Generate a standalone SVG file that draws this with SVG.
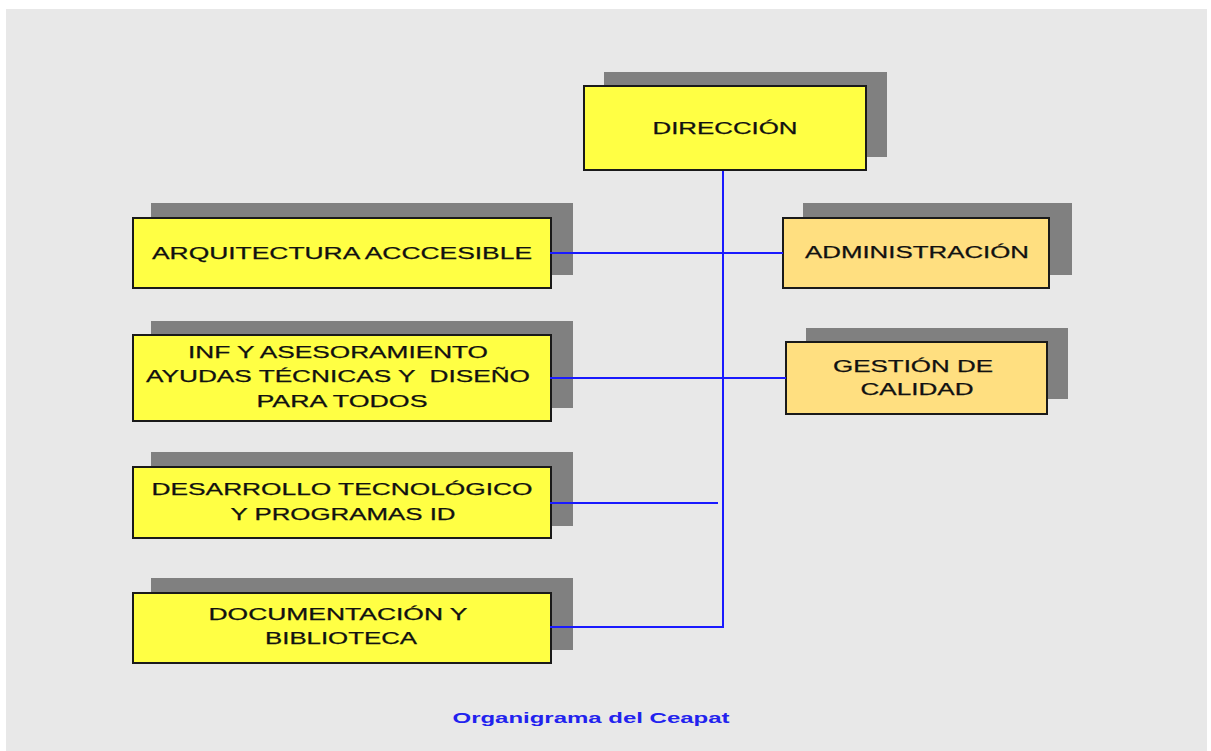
<svg xmlns="http://www.w3.org/2000/svg" width="1211" height="751" viewBox="0 0 1211 751">
<style>
.shadow{fill:#808080}
.box{stroke:#1a1a1a;stroke-width:2}
.y{fill:#ffff44}
.o{fill:#ffdf80}
.t{font-family:"Liberation Sans",Arial,sans-serif;font-size:16px;fill:#111;text-anchor:middle;stroke:#111;stroke-width:0.25;white-space:pre}
.cap{font-family:"Liberation Sans",Arial,sans-serif;font-size:15px;font-weight:bold;fill:#2222ee;text-anchor:middle}
.c{stroke:#1a1aff;stroke-width:2;fill:none}
</style>
<rect x="0" y="0" width="1211" height="751" fill="#ffffff"/>
<rect x="6" y="9" width="1201" height="742" fill="#e8e8e8"/>
<g id="direccion">
<rect class="shadow" x="604" y="72" width="283" height="85"/>
<rect class="box y" x="584" y="86" width="282" height="84"/>
<text class="t" x="725" y="134" textLength="145" lengthAdjust="spacingAndGlyphs">DIRECCIÓN</text>
</g>
<g id="arquitectura">
<rect class="shadow" x="151" y="203" width="422" height="72"/>
<rect class="box y" x="133" y="218" width="418" height="70"/>
<text class="t" x="342" y="259" textLength="380" lengthAdjust="spacingAndGlyphs">ARQUITECTURA ACCCESIBLE</text>
</g>
<g id="informacion">
<rect class="shadow" x="151" y="321" width="422" height="87"/>
<rect class="box y" x="133" y="335" width="418" height="86"/>
<text class="t" x="338" y="358" textLength="300" lengthAdjust="spacingAndGlyphs">INF Y ASESORAMIENTO</text>
<text class="t" x="338" y="382" textLength="384" lengthAdjust="spacingAndGlyphs" xml:space="preserve">AYUDAS TÉCNICAS Y  DISEÑO</text>
<text class="t" x="342" y="407" textLength="171" lengthAdjust="spacingAndGlyphs">PARA TODOS</text>
</g>
<g id="desarrollo">
<rect class="shadow" x="151" y="452" width="422" height="74"/>
<rect class="box y" x="133" y="467" width="418" height="71"/>
<text class="t" x="342" y="495" textLength="381" lengthAdjust="spacingAndGlyphs">DESARROLLO TECNOLÓGICO</text>
<text class="t" x="343" y="520" textLength="225" lengthAdjust="spacingAndGlyphs">Y PROGRAMAS ID</text>
</g>
<g id="documentacion">
<rect class="shadow" x="151" y="578" width="422" height="72"/>
<rect class="box y" x="133" y="593" width="418" height="70"/>
<text class="t" x="338" y="620" textLength="259" lengthAdjust="spacingAndGlyphs">DOCUMENTACIÓN Y</text>
<text class="t" x="341" y="644" textLength="152" lengthAdjust="spacingAndGlyphs">BIBLIOTECA</text>
</g>
<g id="administracion">
<rect class="shadow" x="803" y="203" width="269" height="72"/>
<rect class="box o" x="783" y="218" width="266" height="70"/>
<text class="t" x="917" y="258" textLength="224" lengthAdjust="spacingAndGlyphs">ADMINISTRACIÓN</text>
</g>
<g id="gestion">
<rect class="shadow" x="806" y="328" width="262" height="71"/>
<rect class="box o" x="786" y="342" width="261" height="72"/>
<text class="t" x="913" y="372" textLength="160" lengthAdjust="spacingAndGlyphs">GESTIÓN DE</text>
<text class="t" x="917" y="395" textLength="113" lengthAdjust="spacingAndGlyphs">CALIDAD</text>
</g>
<g id="connectors">
<path class="c" d="M723 171 V627 H550"/>
<path class="c" d="M550 253 H783"/>
<path class="c" d="M550 378 H786"/>
<path class="c" d="M550 503 H718"/>
</g>
<text class="cap" x="591" y="723" textLength="277" lengthAdjust="spacingAndGlyphs">Organigrama del Ceapat</text>
</svg>
